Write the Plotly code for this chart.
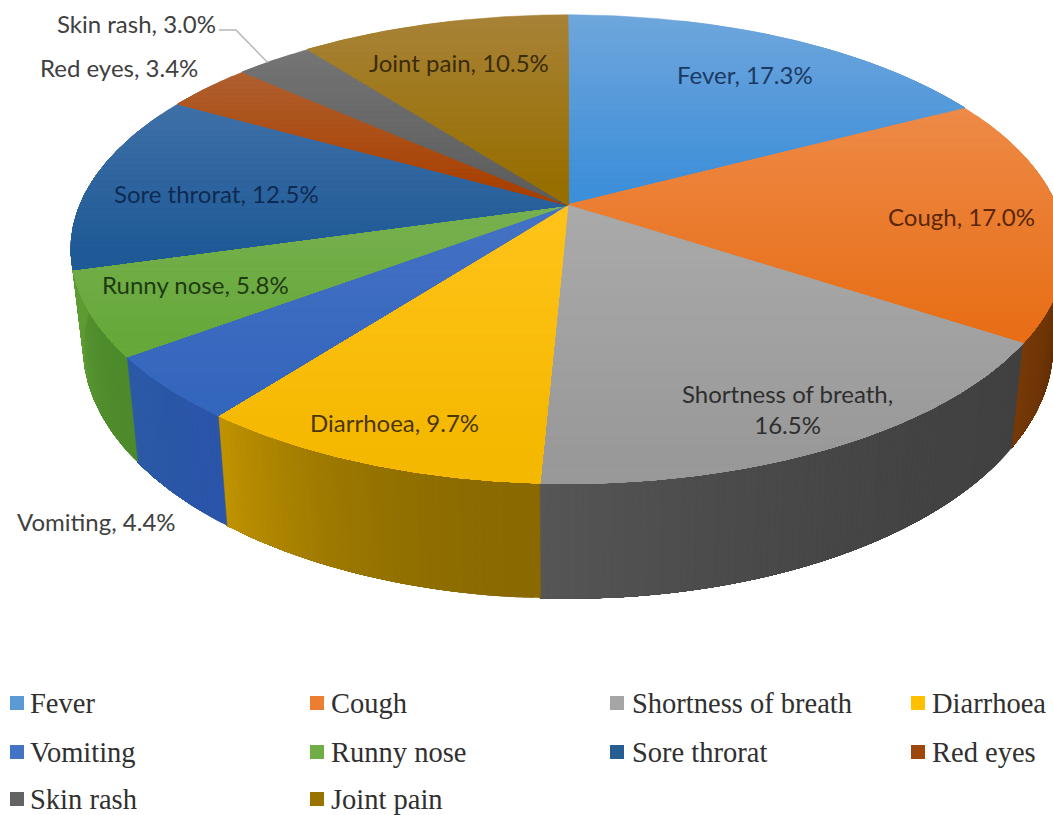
import numpy as np
import plotly.graph_objects as go

# ---- data ----
categories = ["Fever", "Cough", "Shortness of breath", "Diarrhoea", "Vomiting",
              "Runny nose", "Sore throrat", "Red eyes", "Skin rash", "Joint pain"]
values = [17.3, 17.0, 16.5, 9.7, 4.4, 5.8, 12.5, 3.4, 3.0, 10.5]

# ---- style ----
legend_colors = ["#5b9bd5", "#ed7d31", "#a5a5a5", "#ffc000", "#4472c4",
                 "#70ad47", "#255e91", "#9e480e", "#636363", "#997300"]
top_light = ["#6fa6dc", "#ee8b48", "#aaaaaa", "#ffc31a", "#4472c4",
             "#78b150", "#3f70a8", "#b06030", "#757575", "#a88338"]
top_dark = ["#3e8fd9", "#e86f18", "#999999", "#f5b800", "#3566bd",
            "#66a83a", "#1f5a96", "#a84000", "#5e5e5e", "#976e00"]
wall_start = ["#2f5f8f", "#5c2b04", "#414141", "#8a6a00", "#2a55a8",
              "#4d8a2b", "#5f9c35", "#6a3008", "#444444", "#6a5000"]
wall_end = ["#2f5f8f", "#773a08", "#565656", "#c09300", "#2c5aa6",
            "#5f9c35", "#5f9c35", "#6a3008", "#444444", "#6a5000"]
label_colors = ["#1b3a63", "#5a2606", "#2e2e2e", "#4a3608", "#404040",
                "#1f3a12", "#0f2a52", "#404040", "#404040", "#3a2c08"]
label_text = ["Fever, 17.3%", "Cough, 17.0%", "Shortness of breath,<br>16.5%",
              "Diarrhoea, 9.7%", "Vomiting, 4.4%", "Runny nose, 5.8%",
              "Sore throrat, 12.5%", "Red eyes, 3.4%", "Skin rash, 3.0%",
              "Joint pain, 10.5%"]
label_x = [745, 961, 787, 394, 96, 195, 216, 119, 136, 459]
label_y = [74, 216, 409, 422, 521, 284, 193, 67, 23, 62]
legend_swatch_x = [17, 317, 617, 918, 17, 317, 617, 918, 17, 317]
legend_text_x = [30, 331, 632, 932, 30, 331, 632, 932, 30, 331]
legend_y = [703, 703, 703, 703, 752, 752, 752, 752, 799, 799]

# ---- projection of the pie disc ----
CX, CY = 568.0, 205.0
A_TOP, B_TOP, K = 488.0, 226.0, 0.188
CY_BOT, A_BOT, B_BOT = 299.0, 476.0, 243.0


def disc(theta, a, b, cy):
    d = 1 + K * np.cos(theta)
    return CX + a * np.sin(theta) / d, cy - b * np.cos(theta) / d


def hex2rgb(c):
    return np.array([int(c[i:i + 2], 16) for i in (1, 3, 5)], dtype=float)


def mix(c1, c2, t):
    v = hex2rgb(c1) * (1 - t) + hex2rgb(c2) * t
    return "rgb(%d,%d,%d)" % tuple(np.round(v))


def clip_below(px, py, limit):
    """Keep the part of the polygon with y >= limit."""
    pts = list(zip(px, py))
    out = []
    for i in range(len(pts)):
        a, b = pts[i], pts[(i + 1) % len(pts)]
        ina, inb = a[1] >= limit, b[1] >= limit
        if ina:
            out.append(a)
        if ina != inb:
            t = (limit - a[1]) / (b[1] - a[1])
            out.append((a[0] + t * (b[0] - a[0]), limit))
    return [p[0] for p in out], [p[1] for p in out]


fractions = np.cumsum([0] + values) / sum(values)
angles = 2 * np.pi * fractions
fig = go.Figure()


def poly(x, y, color, name):
    fig.add_trace(go.Scatter(
        x=list(x) + [x[0]], y=list(y) + [y[0]], mode="lines", fill="toself",
        fillcolor=color, line=dict(color=color, width=0.5), name=name,
        showlegend=False, hoverinfo="skip"))


# side walls: painted from the start of each slice, each strip running to the
# slice's end so no seams show
for i, cat in enumerate(categories):
    a0, a1 = max(angles[i], np.pi * 0.45), min(angles[i + 1], np.pi * 1.55)
    if a1 <= a0:
        continue
    n = max(2, int((a1 - a0) / 0.012))
    starts = np.linspace(a0, a1, n + 1)[:-1]
    for j, s in enumerate(starts):
        th = np.linspace(s, a1, 40)
        xt, yt = disc(th, A_TOP, B_TOP, CY)
        xb, yb = disc(th, A_BOT, B_BOT, CY_BOT)
        t = ((j + .5) / n) ** 2
        poly(list(xt) + list(xb[::-1]), list(yt) + list(yb[::-1]),
             mix(wall_start[i], wall_end[i], t), cat)

# top face: each slice shaded from light at its top edge to full colour below
for i, cat in enumerate(categories):
    th = np.linspace(angles[i], angles[i + 1], 80)
    xo, yo = disc(th, A_TOP, B_TOP, CY)
    px, py = [CX] + list(xo), [CY] + list(yo)
    ymin, ymax = min(py), max(py)
    nb = 30
    for j, lim in enumerate(np.linspace(ymin, ymax, nb + 1)[:-1]):
        bx, by = clip_below(px, py, lim + (1e-6 if j == 0 else 0))
        if len(bx) < 3:
            continue
        t = min(1.0, ((j + .5) / nb) / 0.9)
        poly(bx, by, mix(top_light[i], top_dark[i], t), cat)

# legend swatches
for i, cat in enumerate(categories):
    fig.add_trace(go.Scatter(
        x=[legend_swatch_x[i]], y=[legend_y[i]], mode="markers",
        marker=dict(symbol="square", size=14, color=legend_colors[i]),
        name=cat, showlegend=False, hoverinfo="skip"))

annotations = []
for i in range(len(categories)):
    annotations.append(dict(
        x=label_x[i], y=label_y[i], text=label_text[i], showarrow=False,
        xanchor="center", yanchor="middle", align="center",
        font=dict(family="Lato", size=24, color=label_colors[i])))
    annotations.append(dict(
        x=legend_text_x[i], y=legend_y[i], text=categories[i], showarrow=False,
        xanchor="left", yanchor="middle", xshift=-2,
        font=dict(family="Liberation Serif", size=28.5, color="#303030")))

# leader line for the Skin rash label
skin = categories.index("Skin rash")
mx, my = disc((angles[skin] + angles[skin + 1]) / 2 - 0.02, A_TOP, B_TOP, CY)
fig.add_shape(type="path", path=f"M 219 30 L 236 30 L {mx:.1f} {my:.1f}",
              line=dict(color="#b5b5b5", width=1.5))

fig.update_layout(
    width=1053, height=815, margin=dict(l=0, r=0, t=0, b=0),
    paper_bgcolor="white", plot_bgcolor="white", showlegend=False,
    xaxis=dict(range=[0, 1053], visible=False, fixedrange=True),
    yaxis=dict(range=[815, 0], visible=False, fixedrange=True),
    annotations=annotations,
)
fig.write_html("out.html", config={"displayModeBar": False},
               post_script="document.body.style.margin='0';")
